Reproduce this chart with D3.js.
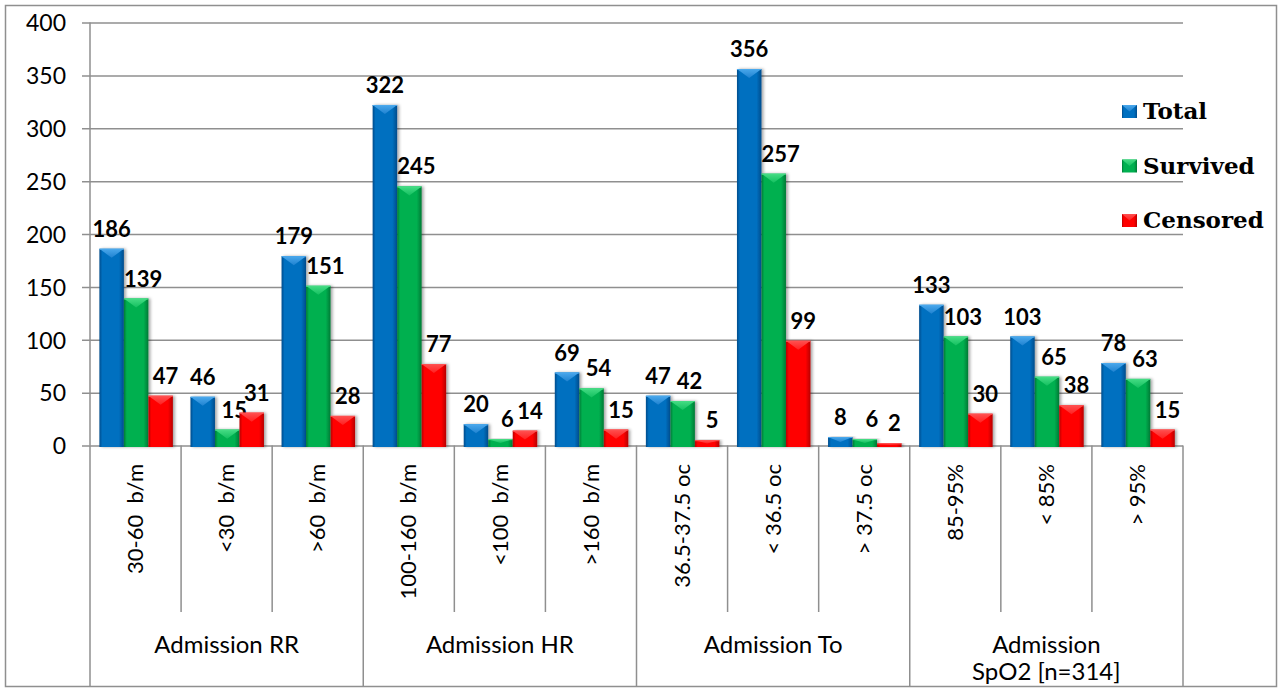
<!DOCTYPE html>
<html>
<head>
<meta charset="utf-8">
<script src="https://cdn.jsdelivr.net/npm/d3@7"></script>
<style>
  html, body { margin: 0; padding: 0; background: #fff; }
  svg { display: block; }
  text { white-space: pre; }
</style>
</head>
<body>
<svg id="chart" width="1282" height="689"></svg>
<script>
// ---------------- data ----------------
const categories = ["30-60  b/m", "<30  b/m", ">60  b/m",
                    "100-160  b/m", "<100  b/m", ">160  b/m",
                    "36.5-37.5 oc", "< 36.5 oc", "> 37.5 oc",
                    "85-95%", "< 85%", "> 95%"];
const categoryGroups = ["Admission RR", "Admission RR", "Admission RR",
                        "Admission HR", "Admission HR", "Admission HR",
                        "Admission To", "Admission To", "Admission To",
                        "Admission SpO2 [n=314]", "Admission SpO2 [n=314]", "Admission SpO2 [n=314]"];
const groupLabels = [["Admission RR"], ["Admission HR"], ["Admission To"], ["Admission", "SpO2 [n=314]"]];
const seriesNames = ["Total", "Survived", "Censored"];
const totalValues    = [186, 46, 179, 322, 20, 69, 47, 356, 8, 133, 103, 78];
const survivedValues = [139, 15, 151, 245, 6, 54, 42, 257, 6, 103, 65, 63];
const censoredValues = [47, 31, 28, 77, 14, 15, 5, 99, 2, 30, 38, 15];
const yTicks = [0, 50, 100, 150, 200, 250, 300, 350, 400];

// ---------------- layout / style ----------------
const plotLeft = 90, plotRight = 1183, plotTop = 22.5, plotBottom = 445.5;
const colors = {
  Total:    {main: "#0070c0", dark: "#004c8c", light: "#4aa8ec", mid: "#1f82d0"},
  Survived: {main: "#00b050", dark: "#007a35", light: "#45dc84", mid: "#14c060"},
  Censored: {main: "#ff0000", dark: "#b80000", light: "#ff5050", mid: "#ff2020"}
};
const labelDx = {Total: 0, Survived: 7, Censored: 5};
const gridColor = "#8f8f8f";

const svg = d3.select("#chart");
const defs = svg.append("defs");

seriesNames.forEach(s => {
  const c = colors[s];
  const g = defs.append("linearGradient").attr("id", "body-" + s)
    .attr("x1", 0).attr("x2", 1).attr("y1", 0).attr("y2", 0);
  g.append("stop").attr("offset", "0%").attr("stop-color", c.dark);
  g.append("stop").attr("offset", "12%").attr("stop-color", c.main);
  g.append("stop").attr("offset", "80%").attr("stop-color", c.main);
  g.append("stop").attr("offset", "100%").attr("stop-color", c.dark);
  const t = defs.append("linearGradient").attr("id", "top-" + s)
    .attr("x1", 0).attr("x2", 0).attr("y1", 0).attr("y2", 1);
  t.append("stop").attr("offset", "0%").attr("stop-color", c.light);
  t.append("stop").attr("offset", "100%").attr("stop-color", c.mid);
});
const shadow = defs.append("filter").attr("id", "shadow")
  .attr("x", "-30%").attr("y", "-10%").attr("width", "160%").attr("height", "130%");
shadow.append("feDropShadow").attr("dx", 2).attr("dy", 0).attr("stdDeviation", 1.5)
  .attr("flood-color", "#000").attr("flood-opacity", 0.35);

// frame
svg.append("rect").attr("x", 5.5).attr("y", 5.5).attr("width", 1271).attr("height", 681)
  .attr("fill", "#fff").attr("stroke", gridColor).attr("stroke-width", 1.5);

// scales
const y = d3.scaleLinear().domain([0, 400]).range([plotBottom, plotTop]);
const x0 = d3.scaleBand().domain(categories).range([plotLeft, plotRight]).padding(0);
const bw = x0.bandwidth();
const x1 = d3.scaleBand().domain(seriesNames).range([bw * 0.103, bw * 0.91]).padding(0);

// y axis with gridlines
const yAxis = d3.axisLeft(y).tickValues(yTicks)
  .tickSizeInner(-(plotRight - 82)).tickSizeOuter(0).tickPadding(16);
const yg = svg.append("g").attr("transform", "translate(82,0)").call(yAxis);
yg.select(".domain").remove();
yg.selectAll(".tick line").attr("stroke", gridColor).attr("stroke-width", 1.5);
yg.selectAll(".tick text").attr("font-family", "Lato").attr("font-size", 23)
  .attr("fill", "#000").attr("dy", "0.36em");

// vertical axis line
svg.append("line").attr("x1", plotLeft).attr("x2", plotLeft)
  .attr("y1", plotTop).attr("y2", plotBottom)
  .attr("stroke", gridColor).attr("stroke-width", 1.5);

// category separators
const boundaries = categories.map((c, i) => ({x: x0(c), i}));
boundaries.push({x: x0(categories[categories.length - 1]) + bw, i: categories.length});
svg.append("g").selectAll("line").data(boundaries).join("line")
  .attr("x1", d => d.x).attr("x2", d => d.x)
  .attr("y1", plotBottom)
  .attr("y2", d => (d.i === 0 || d.i === categories.length ||
                    categoryGroups[d.i] !== categoryGroups[d.i - 1]) ? 686 : 612)
  .attr("stroke", gridColor).attr("stroke-width", 1.5);

// bars
const rows = categories.map((c, i) => ({
  cat: c,
  vals: [
    {s: "Total", v: totalValues[i]},
    {s: "Survived", v: survivedValues[i]},
    {s: "Censored", v: censoredValues[i]}
  ]
}));

const catG = svg.append("g").selectAll("g").data(rows).join("g")
  .attr("transform", d => `translate(${x0(d.cat)},0)`);

const barG = catG.selectAll("g.bar").data(d => d.vals).join("g").attr("class", "bar");
const w = x1.bandwidth();

barG.append("rect")
  .attr("x", d => x1(d.s)).attr("y", d => y(d.v))
  .attr("width", w).attr("height", d => plotBottom - y(d.v) + 1.5)
  .attr("fill", d => `url(#body-${d.s})`)
  .attr("filter", "url(#shadow)");

// pyramid-like top bevel
barG.append("path")
  .attr("d", d => {
    const xl = x1(d.s), xr = xl + w, t = y(d.v);
    const h = Math.min(9, (plotBottom - t) * 0.6);
    return `M${xl},${t}L${xr},${t}L${xl + w / 2},${t + h}Z`;
  })
  .attr("fill", d => `url(#top-${d.s})`);
barG.append("line")
  .attr("x1", d => x1(d.s)).attr("x2", d => x1(d.s) + w)
  .attr("y1", d => y(d.v) + 0.5).attr("y2", d => y(d.v) + 0.5)
  .attr("stroke", d => colors[d.s].light).attr("stroke-width", 1);

// value labels
barG.append("text")
  .attr("x", d => x1(d.s) + w / 2 + labelDx[d.s])
  .attr("y", d => y(d.v) - 12)
  .attr("text-anchor", "middle")
  .attr("font-family", "Lato").attr("font-weight", "bold").attr("font-size", 22)
  .attr("fill", "#000")
  .text(d => d.v);

// category labels (rotated)
svg.append("g").selectAll("text").data(categories).join("text")
  .attr("transform", d => `translate(${x0(d) + bw / 2},464) rotate(-90)`)
  .attr("text-anchor", "end").attr("dy", "0.35em")
  .attr("font-family", "Lato").attr("font-size", 22).attr("fill", "#000")
  .text(d => d);

// group labels
const groupNames = Array.from(new Set(categoryGroups));
const groupG = svg.append("g").selectAll("text").data(groupNames).join("text")
  .attr("x", g => {
    const cats = categories.filter((c, i) => categoryGroups[i] === g);
    return (x0(cats[0]) + x0(cats[cats.length - 1]) + bw) / 2;
  })
  .attr("y", 653)
  .attr("text-anchor", "middle")
  .attr("font-family", "Lato").attr("font-size", 24).attr("fill", "#000");
groupG.each(function (g, gi) {
  const lines = groupLabels[gi];
  const el = d3.select(this);
  const xx = el.attr("x");
  lines.forEach((ln, li) => {
    el.append("tspan").attr("x", xx).attr("dy", li === 0 ? 0 : 27).text(ln);
  });
});

// legend
const legend = svg.append("g").selectAll("g").data(seriesNames).join("g")
  .attr("transform", (d, i) => `translate(1122,${105 + i * 54.5})`);
legend.append("rect").attr("width", 15).attr("height", 13)
  .attr("fill", d => `url(#body-${d})`);
legend.append("path").attr("d", "M0,0L15,0L7.5,6.5Z").attr("fill", d => `url(#top-${d})`);
legend.append("text").attr("x", 21).attr("y", 14)
  .attr("font-family", "DejaVu Serif").attr("font-weight", "bold").attr("font-size", 23)
  .attr("fill", "#000")
  .text(d => d);
</script>
</body>
</html>
